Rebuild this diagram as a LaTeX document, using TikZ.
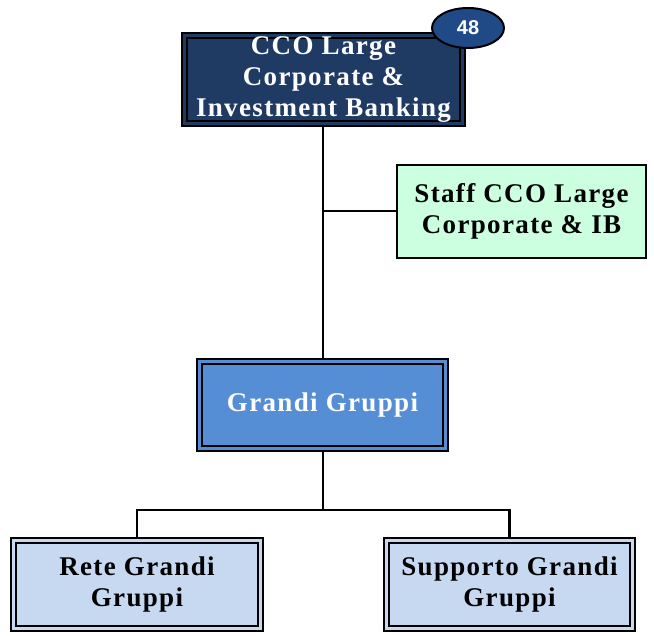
\documentclass[tikz,border=0pt]{standalone}
\usepackage{fontspec}
\setmainfont{Liberation Serif}[LetterSpace=5]
\newfontfamily\badgefont{Liberation Sans}
\usetikzlibrary{shapes.geometric}
\definecolor{topblue}{HTML}{1F3B63}
\definecolor{badgeblue}{HTML}{1F4A85}
\definecolor{midblue}{HTML}{558ED5}
\definecolor{lightblue}{HTML}{C6D9F1}
\definecolor{mint}{HTML}{CCFFE0}
\begin{document}
\begin{tikzpicture}[x=1pt,y=-1pt,
  txt/.style={font=\bfseries\fontsize{27}{31}\selectfont, align=center},
  dblbox/.style={rectangle, draw=black, line width=2.4pt, double distance=2.4pt, inner sep=0pt, txt},
  singlebox/.style={rectangle, draw=black, line width=2.4pt, inner sep=0pt, txt},
  conn/.style={draw=black, line width=2.4pt}]
\useasboundingbox (0,0) rectangle (654,636);
\coordinate (s) at (323,211);
\coordinate (j) at (323,510);
\node[dblbox, double=topblue, fill=topblue, text=white, minimum width=278pt, minimum height=88pt] (top) at (323.5,79.5) {CCO Large\\Corporate \&\\Investment Banking};
\node[singlebox, fill=mint, minimum width=249pt, minimum height=93pt] (staff) at (521.5,211.5) {Staff CCO Large\\Corporate \& IB};
\node[dblbox, double=midblue, fill=midblue, text=white, minimum width=246pt, minimum height=87pt] (grandi) at (322.5,405) {Grandi Gruppi};
\node[dblbox, double=lightblue, fill=lightblue, minimum width=247pt, minimum height=88pt] (rete) at (137,584.5) {Rete Grandi\\Gruppi};
\node[dblbox, double=lightblue, fill=lightblue, minimum width=246pt, minimum height=88pt] (supp) at (509.5,584.5) {Supporto Grandi\\Gruppi};
\node[ellipse, draw=black, line width=2pt, fill=badgeblue, text=white, minimum width=72pt, minimum height=40pt, inner sep=0pt, font=\badgefont\bfseries\fontsize{20}{20}\selectfont] (badge) at (468,28) {48};
\draw[conn] (top.south -| s) -- (grandi.north -| s);
\draw[conn] (s) -- (staff.west |- s);
\draw[conn] (grandi.south -| j) -- (j);
\draw[conn] (j) -| (rete.north);
\draw[conn] (j) -| (supp.north);
\end{tikzpicture}
\end{document}
